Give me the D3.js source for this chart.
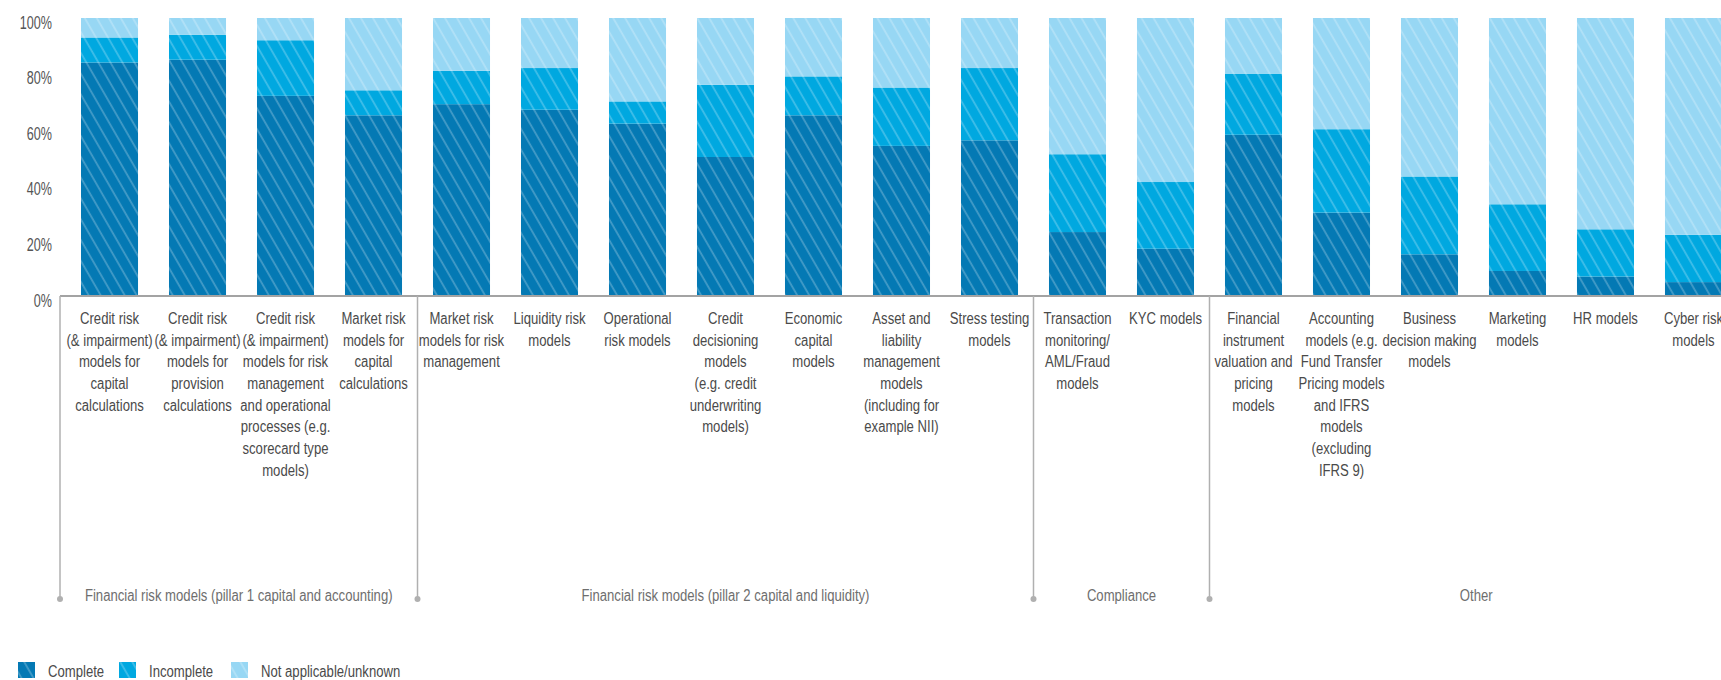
<!DOCTYPE html>
<html>
<head>
  <meta charset="utf-8">
  <script src="https://d3js.org/d3.v7.min.js"></script>
  <style>
    body { margin: 0; background: #fff; }
    svg text { font-family: "Liberation Sans", Arial, sans-serif; }
    .tick-label { font-size: 18px; fill: #555; }
    .cat-label { font-size: 16px; fill: #4a4a4a; }
    .group-label { font-size: 16px; fill: #6e6e6e; }
    .legend text { font-size: 16px; fill: #4a4a4a; }
  </style>
</head>
<body>
  <svg class="chart"></svg>
  <script>
    // categories (one per bar), with the line breaks used in the picture
    var categories = [
      'Credit risk capital', 'Credit risk provision', 'Credit risk management', 'Market risk capital',
      'Market risk management', 'Liquidity risk', 'Operational risk', 'Credit decisioning',
      'Economic capital', 'ALM', 'Stress testing',
      'Transaction monitoring', 'KYC',
      'Financial instrument', 'Accounting', 'Business decision', 'Marketing', 'HR', 'Cyber risk'
    ];
    var categoryLabels = [
      ['Credit risk', '(& impairment)', 'models for', 'capital', 'calculations'],
      ['Credit risk', '(& impairment)', 'models for', 'provision', 'calculations'],
      ['Credit risk', '(& impairment)', 'models for risk', 'management', 'and operational', 'processes (e.g.', 'scorecard type', 'models)'],
      ['Market risk', 'models for', 'capital', 'calculations'],
      ['Market risk', 'models for risk', 'management'],
      ['Liquidity risk', 'models'],
      ['Operational', 'risk models'],
      ['Credit', 'decisioning', 'models', '(e.g. credit', 'underwriting', 'models)'],
      ['Economic', 'capital', 'models'],
      ['Asset and', 'liability', 'management', 'models', '(including for', 'example NII)'],
      ['Stress testing', 'models'],
      ['Transaction', 'monitoring/', 'AML/Fraud', 'models'],
      ['KYC models'],
      ['Financial', 'instrument', 'valuation and', 'pricing', 'models'],
      ['Accounting', 'models (e.g.', 'Fund Transfer', 'Pricing models', 'and IFRS', 'models', '(excluding', 'IFRS 9)'],
      ['Business', 'decision making', 'models'],
      ['Marketing', 'models'],
      ['HR models'],
      ['Cyber risk', 'models']
    ];

    // series values (% of respondents)
    var complete      = [84, 85, 72, 65, 69, 67, 62, 50, 65, 54, 56, 23, 17, 58, 30, 15,  9,  7,  5];
    var incomplete    = [ 9,  9, 20,  9, 12, 15,  8, 26, 14, 21, 26, 28, 24, 22, 30, 28, 24, 17, 17];
    var notApplicable = [ 7,  6,  8, 26, 19, 18, 30, 24, 21, 25, 18, 49, 59, 20, 40, 57, 67, 76, 78];

    var seriesNames = ['Complete', 'Incomplete', 'Not applicable/unknown'];
    var seriesColors = ['#0479b4', '#00a8e0', '#97d7f4'];

    // groups along the x axis
    var groupNames = [
      'Financial risk models (pillar 1 capital and accounting)',
      'Financial risk models (pillar 2 capital and liquidity)',
      'Compliance',
      'Other'
    ];
    var groupSizes = [4, 7, 2, 6];

    var yTicks = [0, 20, 40, 60, 80, 100];

    var width = 1721, height = 680;
    var axisY = 296, topY = 18, left = 60;
    var narrow = 0.82; // condensed look

    var svg = d3.select('.chart')
      .attr('width', width)
      .attr('height', height);

    // hatch patterns: fill colour with light diagonal stripes
    var defs = svg.append('defs');
    seriesColors.forEach(function (c, i) {
      var p = defs.append('pattern')
        .attr('id', 'hatch' + i)
        .attr('patternUnits', 'userSpaceOnUse')
        .attr('width', 10.4)
        .attr('height', 10.4)
        .attr('patternTransform', 'rotate(-30)');
      p.append('rect').attr('width', 10.4).attr('height', 10.4).attr('fill', c);
      p.append('line')
        .attr('x1', 2).attr('y1', 0).attr('x2', 2).attr('y2', 10.4)
        .attr('stroke', '#fff').attr('stroke-opacity', 0.25).attr('stroke-width', 1.8);
    });

    var table = categories.map(function (c, i) {
      return { cat: c, 'Complete': complete[i], 'Incomplete': incomplete[i], 'Not applicable/unknown': notApplicable[i] };
    });
    var stacked = d3.stack().keys(seriesNames)(table);

    var xScale = d3.scaleBand()
      .domain(categories)
      .range([left, 1743])
      .paddingInner(0.352)
      .paddingOuter(0.2386);

    var yScale = d3.scaleLinear()
      .domain([0, 100])
      .range([axisY, topY]);

    // bars
    svg.append('g').selectAll('g')
      .data(stacked)
      .enter().append('g')
      .attr('fill', function (d, i) { return 'url(#hatch' + i + ')'; })
      .selectAll('rect')
      .data(function (d) { return d; })
      .enter().append('rect')
      .attr('x', function (d) { return xScale(d.data.cat); })
      .attr('y', function (d) { return yScale(d[1]); })
      .attr('height', function (d) { return yScale(d[0]) - yScale(d[1]); })
      .attr('width', xScale.bandwidth());

    // y tick labels (no axis line)
    svg.append('g').selectAll('g')
      .data(yTicks)
      .enter().append('g')
      .attr('transform', function (d) { return 'translate(52,' + (yScale(d) + 10.5) + ') scale(0.7,1)'; })
      .append('text')
      .attr('class', 'tick-label')
      .attr('text-anchor', 'end')
      .text(function (d) { return d + '%'; });

    // x axis baseline
    svg.append('line')
      .attr('x1', left).attr('x2', width)
      .attr('y1', axisY).attr('y2', axisY)
      .attr('stroke', '#a3a3a3').attr('stroke-width', 2);

    // category labels
    var lineH = 21.7;
    svg.append('g').selectAll('g')
      .data(categories)
      .enter().append('g')
      .attr('transform', function (d) {
        return 'translate(' + (xScale(d) + xScale.bandwidth() / 2) + ',' + (axisY + 28) + ') scale(' + narrow + ',1)';
      })
      .append('text')
      .attr('class', 'cat-label')
      .attr('text-anchor', 'middle')
      .each(function (d, i) {
        var t = d3.select(this);
        categoryLabels[i].forEach(function (line, j) {
          t.append('tspan').attr('x', 0).attr('dy', j === 0 ? 0 : lineH).text(line);
        });
      });

    // group separators and labels
    var gap = (xScale.step() - xScale.bandwidth()) / 2;
    var dotY = 599;
    var start = 0;
    var bounds = [];
    groupSizes.forEach(function (n) {
      var x0 = start === 0 ? xScale.range()[0] : xScale(categories[start]) - gap;
      var last = start + n - 1;
      var x1 = last === categories.length - 1 ? xScale.range()[1] : xScale(categories[last]) + xScale.bandwidth() + gap;
      bounds.push([x0, x1]);
      start += n;
    });

    var groupG = svg.append('g');
    bounds.forEach(function (b, i) {
      groupG.append('line')
        .attr('x1', b[0]).attr('x2', b[0])
        .attr('y1', axisY).attr('y2', dotY)
        .attr('stroke', '#b0b0b0').attr('stroke-width', 1.5);
      groupG.append('circle')
        .attr('cx', b[0]).attr('cy', dotY).attr('r', 3)
        .attr('fill', '#b0b0b0');
      groupG.append('g')
        .attr('transform', 'translate(' + ((b[0] + b[1]) / 2) + ',601) scale(' + narrow + ',1)')
        .append('text')
        .attr('class', 'group-label')
        .attr('text-anchor', 'middle')
        .text(groupNames[i]);
    });

    // legend
    var legendX = [18, 119, 231];
    var legend = svg.append('g').attr('class', 'legend');
    seriesNames.forEach(function (s, i) {
      legend.append('rect')
        .attr('x', legendX[i]).attr('y', 662)
        .attr('width', 17).attr('height', 16)
        .attr('fill', 'url(#hatch' + i + ')');
      legend.append('g')
        .attr('transform', 'translate(' + (legendX[i] + 30) + ',677) scale(' + narrow + ',1)')
        .append('text')
        .text(s);
    });
  </script>
</body>
</html>
